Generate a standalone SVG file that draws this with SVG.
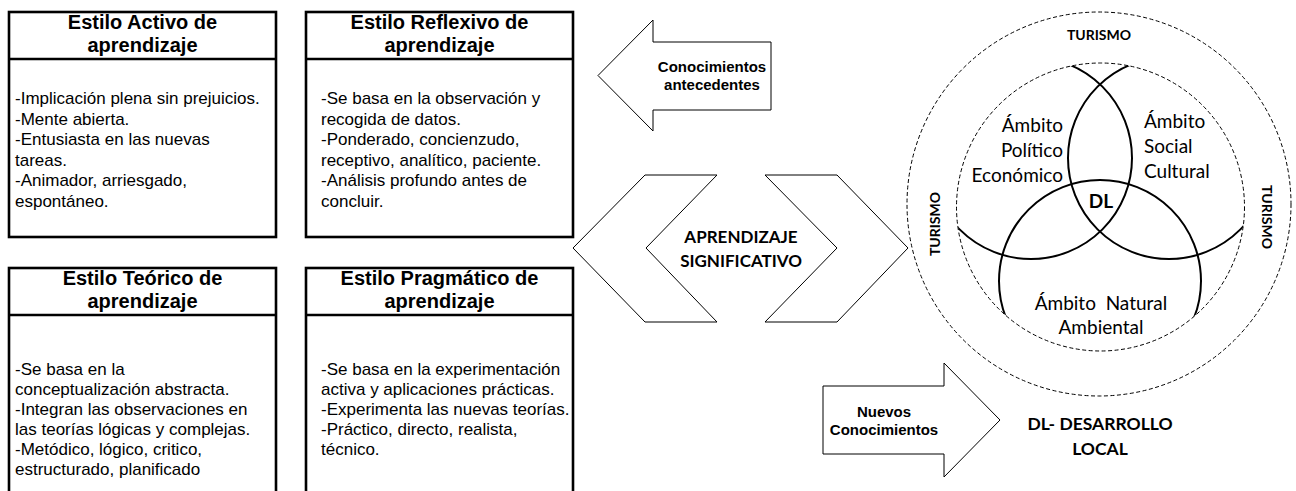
<svg xmlns="http://www.w3.org/2000/svg" width="1296" height="491" viewBox="0 0 1296 491">
<style>
.box{fill:#fff;stroke:#000;stroke-width:2.6}
.div{stroke:#000;stroke-width:2.6}
.hd{font-family:"Liberation Sans",Arial,sans-serif;font-weight:bold;font-size:20px;text-anchor:middle;fill:#000}
.bd{font-family:"Liberation Sans",Arial,sans-serif;font-size:17px;fill:#000}
.arw{fill:#fff;stroke:#000;stroke-width:1}
.al{font-family:"Liberation Sans",Arial,sans-serif;font-weight:bold;font-size:15px;text-anchor:middle;fill:#000}
.cb{font-family:Lato,"Open Sans",sans-serif;font-weight:bold;fill:#000;text-anchor:middle}
.cr{font-family:Lato,"Open Sans",sans-serif;font-size:19px;fill:#000}
.dash{fill:none;stroke:#000;stroke-width:1;stroke-dasharray:4 2.5}
.venn{fill:none;stroke:#000;stroke-width:2}
</style>
<defs>
<clipPath id="innerClip"><circle cx="1100.5" cy="207" r="144"/></clipPath>
</defs>
<rect width="1296" height="491" fill="#fff"/>

<g id="estilo-activo">
<rect class="box" x="9" y="12" width="267" height="225"/>
<line class="div" x1="9" y1="59" x2="276" y2="59"/>
<text class="hd" x="142.5" y="29">Estilo Activo de</text>
<text class="hd" x="142.5" y="52">aprendizaje</text>
<text class="bd" x="15" y="104">-Implicación plena sin prejuicios.</text>
<text class="bd" x="15" y="124.6">-Mente abierta.</text>
<text class="bd" x="15" y="145.2">-Entusiasta en las nuevas</text>
<text class="bd" x="15" y="165.8">tareas.</text>
<text class="bd" x="15" y="186.4">-Animador, arriesgado,</text>
<text class="bd" x="15" y="207">espontáneo.</text>
</g>

<g id="estilo-reflexivo">
<rect class="box" x="306" y="12" width="267" height="225"/>
<line class="div" x1="306" y1="59" x2="573" y2="59"/>
<text class="hd" x="439.5" y="29">Estilo Reflexivo de</text>
<text class="hd" x="439.5" y="52">aprendizaje</text>
<text class="bd" x="321" y="104">-Se basa en la observación y</text>
<text class="bd" x="321" y="124.6">recogida de datos.</text>
<text class="bd" x="321" y="145.2">-Ponderado, concienzudo,</text>
<text class="bd" x="321" y="165.8">receptivo, analítico, paciente.</text>
<text class="bd" x="321" y="186.4">-Análisis profundo antes de</text>
<text class="bd" x="321" y="207">concluir.</text>
</g>

<g id="estilo-teorico">
<rect class="box" x="9" y="268" width="267" height="240"/>
<line class="div" x1="9" y1="315" x2="276" y2="315"/>
<text class="hd" x="142.5" y="285">Estilo Teórico de</text>
<text class="hd" x="142.5" y="308">aprendizaje</text>
<text class="bd" x="15" y="375">-Se basa en la</text>
<text class="bd" x="15" y="395">conceptualización abstracta.</text>
<text class="bd" x="15" y="415">-Integran las observaciones en</text>
<text class="bd" x="15" y="435">las teorías lógicas y complejas.</text>
<text class="bd" x="15" y="455">-Metódico, lógico, critico,</text>
<text class="bd" x="15" y="475">estructurado, planificado</text>
</g>

<g id="estilo-pragmatico">
<rect class="box" x="306" y="268" width="267" height="240"/>
<line class="div" x1="306" y1="315" x2="573" y2="315"/>
<text class="hd" x="439.5" y="285">Estilo Pragmático de</text>
<text class="hd" x="439.5" y="308">aprendizaje</text>
<text class="bd" x="321" y="375">-Se basa en la experimentación</text>
<text class="bd" x="321" y="395">activa y aplicaciones prácticas.</text>
<text class="bd" x="321" y="415">-Experimenta las nuevas teorías.</text>
<text class="bd" x="321" y="435">-Práctico, directo, realista,</text>
<text class="bd" x="321" y="455">técnico.</text>
</g>

<g id="aprendizaje-significativo">
<polygon class="arw" points="645,175 717,175 646,248 717,322 645,322 573,248"/>
<polygon class="arw" points="765,175 837,175 908,248 837,322 765,322 837,248"/>
<text class="cb" x="741" y="243" font-size="17">APRENDIZAJE</text>
<text class="cb" x="741" y="267" font-size="17">SIGNIFICATIVO</text>
</g>

<g id="connectors">
<g id="conocimientos-antecedentes">
<polygon class="arw" points="598,75.5 653,20 653,42 771,42 771,110 653,110 653,131"/>
<text class="al" x="712" y="72">Conocimientos</text>
<text class="al" x="712" y="90">antecedentes</text>
</g>
<g id="nuevos-conocimientos">
<polygon class="arw" points="823,386 944,386 944,363 1000,420 944,477 944,454 823,454"/>
<text class="al" x="884" y="417">Nuevos</text>
<text class="al" x="884" y="435">Conocimientos</text>
</g>
</g>

<g id="turismo">
<circle class="dash" cx="1099" cy="204" r="192"/>
<text class="cb" x="1099" y="40" font-size="14">TURISMO</text>
<text class="cb" font-size="14" transform="translate(940,224) rotate(-90)">TURISMO</text>
<text class="cb" font-size="14" transform="translate(1262,217) rotate(90)">TURISMO</text>
</g>

<g id="ambitos">
<circle class="dash" cx="1100.5" cy="207" r="144"/>
<g clip-path="url(#innerClip)">
<circle class="venn" cx="1031" cy="158" r="101"/>
<circle class="venn" cx="1169" cy="158" r="101"/>
<circle class="venn" cx="1100" cy="281" r="101"/>
</g>
</g>

<g id="ambito-politico-economico">
<text class="cr" x="1063" y="132" text-anchor="end">Ámbito</text>
<text class="cr" x="1063" y="157" text-anchor="end">Político</text>
<text class="cr" x="1063" y="182" text-anchor="end">Económico</text>
</g>

<g id="ambito-social-cultural">
<text class="cr" x="1144" y="128">Ámbito</text>
<text class="cr" x="1144" y="153">Social</text>
<text class="cr" x="1144" y="178">Cultural</text>
</g>

<g id="ambito-natural-ambiental">
<text class="cr" x="1101" y="310" text-anchor="middle" xml:space="preserve">Ámbito  Natural</text>
<text class="cr" x="1101" y="334" text-anchor="middle">Ambiental</text>
</g>

<g id="dl">
<text class="cb" x="1101" y="208" font-size="19">DL</text>
</g>

<g id="dl-desarrollo-local">
<text class="cb" x="1100" y="430" font-size="17.5">DL- DESARROLLO</text>
<text class="cb" x="1100" y="455" font-size="17.5">LOCAL</text>
</g>
</svg>
